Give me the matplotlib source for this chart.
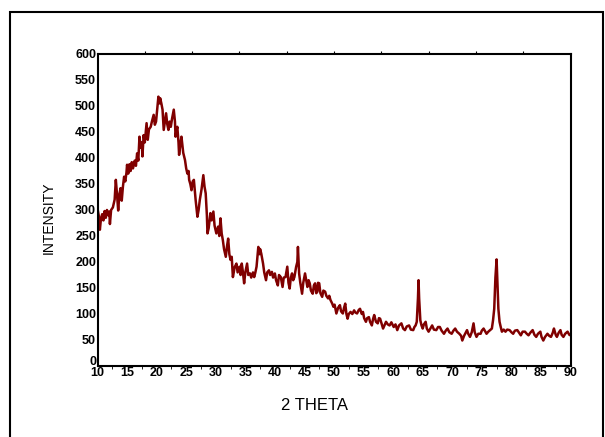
import numpy as np
import matplotlib
matplotlib.use("Agg")
import matplotlib.pyplot as plt
from matplotlib.patches import Rectangle
from matplotlib.transforms import ScaledTranslation

# XRD pattern (2 theta in degrees, intensity)
two_theta = [
    10.0, 10.2, 10.4, 10.6, 10.8, 11.0, 11.2, 11.4, 11.6, 11.8, 12.0, 12.1, 12.3, 12.6, 12.9,
    13.1, 13.3, 13.5, 13.7, 13.9, 14.1, 14.3, 14.5, 14.7, 14.9, 15.0, 15.2, 15.4, 15.6, 15.8,
    16.0, 16.3, 16.5, 16.7, 16.9, 17.1, 17.3, 17.5, 17.6, 17.8, 18.0, 18.3, 18.5, 18.7, 19.0,
    19.2, 19.5, 19.7, 19.9, 20.1, 20.3, 20.5, 20.6, 20.8, 21.0, 21.2, 21.4, 21.6, 21.8, 22.0,
    22.2, 22.4, 22.6, 22.9, 23.1, 23.2, 23.4, 23.5, 23.7, 23.8, 24.0, 24.2, 24.5, 24.8, 25.0,
    25.2, 25.4, 25.5, 25.7, 25.9, 26.1, 26.3, 26.6, 26.9, 27.1, 27.3, 27.6, 27.9, 28.1, 28.3,
    28.5, 28.6, 28.8, 29.1, 29.3, 29.6, 29.8, 30.1, 30.4, 30.6, 30.8, 31.0, 31.2, 31.4, 31.7,
    31.9, 32.1, 32.3, 32.5, 32.7, 32.9, 33.2, 33.5, 33.7, 34.0, 34.2, 34.4, 34.6, 34.8, 35.0,
    35.3, 35.5, 35.8, 36.0, 36.3, 36.5, 36.7, 36.9, 37.2, 37.4, 37.5, 37.7, 38.0, 38.2, 38.5,
    38.7, 39.0, 39.2, 39.5, 39.7, 40.0, 40.2, 40.5, 40.7, 41.0, 41.3, 41.5, 41.8, 42.1, 42.3,
    42.5, 42.7, 42.9, 43.1, 43.3, 43.6, 43.8, 43.9, 44.1, 44.3, 44.6, 44.8, 45.1, 45.3, 45.5,
    45.7, 45.9, 46.1, 46.4, 46.6, 46.8, 47.0, 47.2, 47.3, 47.5, 47.7, 48.0, 48.2, 48.5, 48.7,
    49.0, 49.2, 49.4, 49.7, 49.9, 50.1, 50.4, 50.7, 51.0, 51.2, 51.5, 51.7, 51.9, 52.1, 52.3,
    52.5, 52.8, 53.1, 53.4, 53.6, 53.9, 54.2, 54.4, 54.7, 54.9, 55.1, 55.4, 55.6, 55.9, 56.1,
    56.4, 56.6, 56.8, 57.1, 57.4, 57.6, 57.8, 58.1, 58.3, 58.6, 58.8, 59.1, 59.4, 59.7, 60.1,
    60.4, 60.7, 61.0, 61.4, 61.7, 62.0, 62.3, 62.7, 63.0, 63.4, 63.6, 63.8, 64.0, 64.2, 64.3,
    64.4, 64.6, 64.8, 65.0, 65.2, 65.5, 65.7, 66.0, 66.3, 66.6, 66.9, 67.3, 67.6, 67.9, 68.2,
    68.6, 68.9, 69.2, 69.5, 69.9, 70.2, 70.5, 70.8, 71.2, 71.5, 71.7, 72.0, 72.5, 72.7, 73.0,
    73.3, 73.6, 73.8, 74.1, 74.4, 74.8, 75.0, 75.3, 75.6, 75.8, 76.1, 76.4, 76.7, 76.9, 77.1,
    77.3, 77.5, 77.6, 77.8, 78.0, 78.2, 78.4, 78.7, 79.0, 79.3, 79.7, 80.0, 80.3, 80.6, 81.0,
    81.3, 81.6, 81.9, 82.3, 82.6, 82.9, 83.2, 83.6, 83.9, 84.2, 84.5, 84.9, 85.1, 85.4, 85.7,
    86.1, 86.4, 86.7, 87.0, 87.2, 87.5, 87.7, 88.0, 88.3, 88.5, 88.8, 89.1, 89.5, 89.8, 90.0,
]
intensity = [
    303, 290, 262, 285, 292, 280, 298, 285, 300, 290, 297, 273, 300, 305, 320,
    358, 330, 299, 330, 342, 318, 345, 364, 355, 372, 387, 370, 388, 375, 392,
    380, 395, 385, 409, 395, 441, 420, 430, 403, 444, 430, 467, 435, 455, 460,
    470, 483, 464, 470, 495, 518, 505, 515, 505, 493, 454, 470, 486, 465, 454,
    470, 460, 475, 493, 470, 441, 455, 460, 430, 406, 425, 441, 410, 396, 380,
    370, 375, 358, 350, 338, 355, 358, 319, 287, 300, 319, 340, 367, 345, 332,
    290, 255, 265, 294, 280, 297, 270, 255, 268, 250, 284, 255, 242, 225, 210,
    230, 245, 215, 204, 210, 171, 190, 197, 180, 191, 175, 197, 180, 159, 180,
    197, 175, 178, 170, 180, 171, 180, 191, 229, 215, 225, 216, 197, 180, 165,
    180, 184, 175, 181, 170, 178, 165, 155, 175, 171, 152, 170, 171, 191, 160,
    149, 170, 178, 165, 171, 191, 200, 229, 178, 160, 139, 160, 178, 165, 152,
    165, 159, 145, 139, 155, 159, 140, 143, 160, 159, 140, 133, 145, 143, 135,
    130, 135, 127, 120, 114, 118, 101, 112, 117, 105, 101, 112, 120, 100, 91,
    100, 104, 100, 107, 103, 101, 108, 110, 100, 104, 92, 85, 92, 94, 85,
    78, 90, 98, 85, 82, 92, 91, 80, 72, 80, 85, 80, 78, 84, 75,
    80, 69, 78, 82, 72, 69, 76, 78, 70, 69, 75, 78, 85, 130, 165,
    130, 88, 78, 72, 80, 85, 72, 66, 72, 78, 70, 69, 75, 75, 68,
    62, 68, 72, 65, 62, 68, 72, 66, 62, 58, 49, 58, 69, 62, 56,
    65, 82, 65, 56, 62, 62, 68, 72, 66, 62, 66, 69, 72, 88, 110,
    170, 205, 175, 110, 85, 75, 66, 70, 66, 70, 69, 65, 62, 68, 69,
    64, 59, 66, 66, 62, 59, 64, 69, 60, 56, 62, 66, 56, 49, 56,
    62, 58, 56, 64, 72, 60, 56, 64, 69, 60, 56, 62, 66, 60, 59,
]

x_ticks = list(range(10, 95, 5))
y_ticks = list(range(0, 650, 50))

W, H = 605, 437
fig = plt.figure(figsize=(W / 100, H / 100), dpi=100)
plt.rcParams['font.family'] = ['Liberation Sans', 'DejaVu Sans']

# outer frame of the picture
fig.patches.append(Rectangle((10 / W, -0.05), 593 / W, 1.05 - 12 / H,
                             transform=fig.transFigure, fill=False,
                             edgecolor='black', linewidth=1.5))

ax = fig.add_axes([97.5 / W, (H - 366) / H, 473 / W, 312 / H])
ax.plot(two_theta, intensity, color='#800000', linewidth=1.8)

ax.set_xlim(10, 90)
ax.set_ylim(0, 600)
ax.set_xticks(x_ticks)
ax.set_yticks(y_ticks)
ax.set_xticks(np.arange(12.5, 90, 5), minor=True)
ax.tick_params(axis='x', which='major', length=0, pad=1, labelsize=9)
ax.tick_params(axis='x', which='minor', length=2, direction='out')
ax.tick_params(axis='y', length=0, pad=1, labelsize=9)
for lab in ax.get_xticklabels() + ax.get_yticklabels():
    lab.set_fontweight('bold')
# the "0" sits a little above the "10" in the reference
zero = ax.get_yticklabels()[0]
zero.set_transform(zero.get_transform() + ScaledTranslation(0, 4 / 72, fig.dpi_scale_trans))
for s in ax.spines.values():
    s.set_linewidth(1.5)

top = ax.secondary_xaxis('top')
top.set_xticks(np.arange(18, 90, 8))
top.tick_params(length=2, labeltop=False)
top.spines['top'].set_visible(False)

fig.text(314.5 / W, (H - 405) / H, '2 THETA', ha='center', va='center', fontsize=12)
fig.text(49 / W, (H - 218) / H, 'INTENSITY', ha='center', va='center',
         rotation=90, fontsize=10)

fig.savefig('out.png', dpi=100)
